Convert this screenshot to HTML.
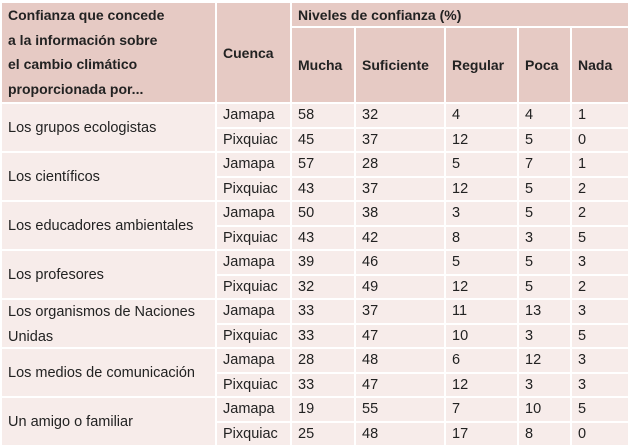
<!DOCTYPE html>
<html><head><meta charset="utf-8"><style>
body{margin:0;width:630px;height:445px;background:#fff;position:relative;overflow:hidden;font-family:"Liberation Sans",sans-serif;color:#222}
.c{position:absolute;box-sizing:border-box;font-size:14.5px;display:flex;align-items:center;padding-left:6px;white-space:nowrap}
.h{background:#e6cac4;font-weight:bold;color:#222;font-size:14px}
.b{background:#f7ecea}
</style></head><body>
<script>
const sources=["Los grupos ecologistas","Los científicos","Los educadores ambientales","Los profesores","Los organismos de Naciones<br>Unidas","Los medios de comunicación","Un amigo o familiar"];
const basins=["Jamapa","Pixquiac"];
const levels=["Mucha","Suficiente","Regular","Poca","Nada"];
const values=[[58,32,4,4,1],[45,37,12,5,0],[57,28,5,7,1],[43,37,12,5,2],[50,38,3,5,2],[43,42,8,3,5],[39,46,5,5,3],[32,49,12,5,2],[33,37,11,13,3],[33,47,10,3,5],[28,48,6,12,3],[33,47,12,3,3],[19,55,7,10,5],[25,48,17,8,0]];
const xs=[2,217,292,356,446,519,572,630];
function cell(x,y,w,h,cls,html,name){const d=document.createElement('div');d.className='c '+cls;d.style.left=x+'px';d.style.top=y+'px';d.style.width=w+'px';d.style.height=h+'px';d.innerHTML=html;


document.body.appendChild(d);return d;}
const t=cell(2,3,213,99,'h','<div style="line-height:24.5px">Confianza que concede<br>a la información sobre<br>el cambio climático<br>proporcionada por...</div>','header-source');
t.style.alignItems='flex-start';
cell(217,3,73,99,'h','Cuenca','header-basin');
cell(292,3,336,23,'h','Niveles de confianza (%)','header-levels');
levels.forEach((l,i)=>cell(xs[i+2],28,xs[i+3]-xs[i+2]-2,74,'h',l,'header-'+l.toLowerCase()));
const y0=104,p=24.5;
sources.forEach((s,i)=>{const c=cell(2,y0+2*i*p,213,2*p-2,'b',s,'source-label');
if(s.includes('<br>')){c.style.alignItems='flex-start';c.innerHTML='<div style="line-height:24.5px">'+s+'</div>';}});
values.forEach((r,j)=>{const y=y0+j*p;cell(217,y,73,p-2,'b',basins[j%2],'basin-cell');
r.forEach((v,k)=>cell(xs[k+2],y,xs[k+3]-xs[k+2]-2,p-2,'b',String(v),'value-cell'));});
</script>
</body></html>
